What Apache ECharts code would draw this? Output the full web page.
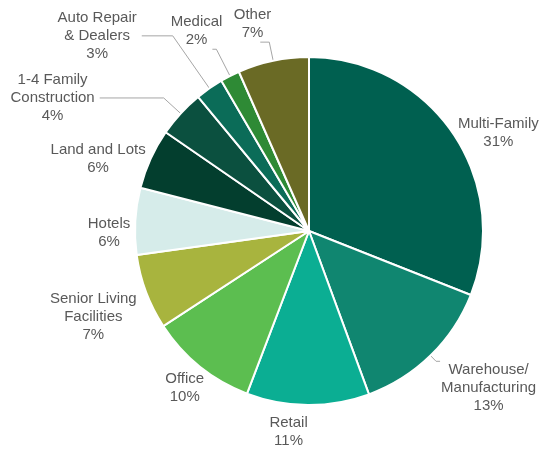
<!DOCTYPE html>
<html>
<head>
<meta charset="utf-8">
<script src="https://cdn.jsdelivr.net/npm/echarts@6/dist/echarts.min.js"></script>
<style>
  html, body { margin: 0; padding: 0; background: #fff; }
  #main { width: 545px; height: 450px; }
</style>
</head>
<body>
<div id="main"></div>
<script>
// loan categories, clockwise from 12 o'clock
const categories = ['Multi-Family', 'Warehouse/\nManufacturing', 'Retail', 'Office', 'Senior Living\nFacilities',
    'Hotels', 'Land and Lots', '1-4 Family\nConstruction', 'Auto Repair\n& Dealers', 'Medical', 'Other'];
const shares = [31, 13.4, 11.4, 10, 7, 6.2, 5.6, 4.4, 2.6, 1.8, 6.6];
const colors = ['#006050', '#108670', '#0bae93', '#5cbe50', '#a8b43e', '#d6ecea',
    '#033e2e', '#0b503f', '#0b6c58', '#2e8a35', '#6a6a25'];

// label placement tweaks (line length, second segment, gap to line, vertical anchor)
const labelTweaks = [
    { len: 0, len2: 0, dist: 5, line: false },
    { len: 8, len2: 4, dist: 1, line: true, v: 'top' },
    { len: 27, len2: 0, dist: 0, line: false },
    { len: 28, len2: 0, dist: -22, line: false },
    { len: -6, len2: 0, dist: 15, line: false, v: 'top' },
    { len: 0, len2: 0, dist: 5, line: false, pad: [24, 0, 0, 0] },
    { len: 0, len2: 0, dist: 5, line: false },
    { len: 23, len2: 64, dist: 5, line: true },
    { len: 64, len2: 31, dist: 5, line: true },
    { len: 30, len2: 4, dist: -10, line: true, v: 'bottom' },
    { len: 19, len2: 9, dist: -11, line: true, v: 'bottom' }
];

let chart = echarts.init(document.getElementById('main'));

let data = categories.map((name, i) => {
    let t = labelTweaks[i];
    return {
        name: name,
        value: shares[i],
        itemStyle: { color: colors[i] },
        label: { distanceToLabelLine: t.dist, padding: t.pad || 0 },
        labelLine: { show: t.line, length: t.len, length2: t.len2 }
    };
});

let option = {
    backgroundColor: '#fff',
    animation: false,
    series: [{
        type: 'pie',
        center: [309, 231],
        radius: 174,
        startAngle: 90,
        clockwise: true,
        avoidLabelOverlap: false,
        itemStyle: { borderColor: '#fff', borderWidth: 2 },
        label: {
            show: true,
            position: 'outside',
            alignTo: 'none',
            fontFamily: 'Liberation Sans, Arial, sans-serif',
            fontSize: 15,
            color: '#595959',
            formatter: (p) => {
                let lines = p.name.split('\n').map(s => '{t|' + s + '}');
                lines.push('{t|' + Math.round(p.percent) + '%}');
                return lines.join('\n');
            },
            rich: {
                t: {
                    align: 'center',
                    fontFamily: 'Liberation Sans, Arial, sans-serif',
                    fontSize: 15,
                    lineHeight: 18,
                    color: '#595959'
                }
            }
        },
        labelLine: {
            lineStyle: { color: '#a6a6a6', width: 1 },
            smooth: false
        },
        labelLayout: (p) => {
            let t = labelTweaks[p.dataIndex];
            return t.v ? { verticalAlign: t.v } : {};
        },
        data: data
    }]
};

chart.setOption(option);
</script>
</body>
</html>
